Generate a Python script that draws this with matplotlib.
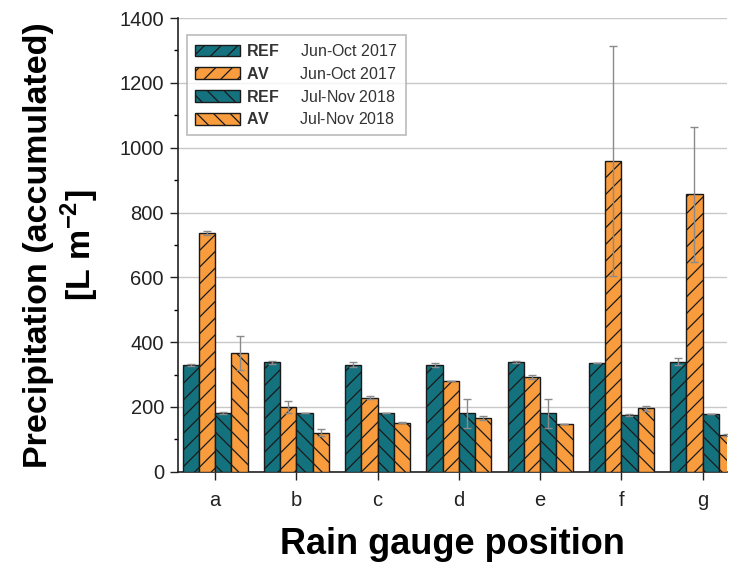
import numpy as np
import matplotlib
matplotlib.use("Agg")
import matplotlib.pyplot as plt

plt.rcParams['font.family'] = ['Liberation Sans', 'DejaVu Sans']
plt.rcParams['mathtext.fontset'] = 'custom'
plt.rcParams['mathtext.bf'] = 'Liberation Sans:bold'
plt.rcParams['mathtext.rm'] = 'Liberation Sans'
plt.rcParams['hatch.linewidth'] = 0.9

# data
positions = ['a', 'b', 'c', 'd', 'e', 'f', 'g']
ref_2017 = [329, 338, 330, 330, 338, 337, 340]
ref_2017_err = [4, 4, 8, 7, 3, 0, 12]
av_2017 = [737, 200, 229, 281, 292, 960, 856]
av_2017_err = [6, 19, 4, 0, 6, 355, 209]
ref_2018 = [181, 181, 181, 181, 181, 175, 178]
ref_2018_err = [2, 0, 0, 45, 45, 4, 0]
av_2018 = [366, 121, 152, 166, 148, 196, 114]
av_2018_err = [52, 10, 3, 6, 0, 8, 3]

series = [
    (ref_2017, ref_2017_err, '#14727e', '//', r'$\mathbf{REF}$     Jun-Oct 2017'),
    (av_2017, av_2017_err, '#f89c3e', '//', r'$\mathbf{AV}$       Jun-Oct 2017'),
    (ref_2018, ref_2018_err, '#14727e', '\\\\', r'$\mathbf{REF}$     Jul-Nov 2018'),
    (av_2018, av_2018_err, '#f89c3e', '\\\\', r'$\mathbf{AV}$       Jul-Nov 2018'),
]

fig = plt.figure(figsize=(7.32, 5.65), dpi=100)
ax = fig.add_axes([0.243, 0.165, 0.75, 0.803])

x = np.arange(len(positions))
w = 0.2
for i, (vals, errs, col, hatch, lab) in enumerate(series):
    ax.bar(x + (i - 1.5) * w, vals, w, color=col, edgecolor='#1a1a1a', linewidth=1.0,
           hatch=hatch, label=lab, zorder=3,
           yerr=errs, error_kw=dict(ecolor='#8a8a8a', elinewidth=1.0, capsize=3, capthick=1.0, zorder=4))

ax.set_ylim(0, 1400)
ax.set_xlim(-0.46, 6.3)
ax.set_yticks(np.arange(0, 1401, 200))
ax.set_yticks(np.arange(100, 1400, 200), minor=True)
ax.set_xticks(x)
ax.set_xticklabels(positions)
ax.tick_params(axis='y', which='major', length=6, width=1, labelsize=14.5, colors='#222222', pad=4)
ax.tick_params(axis='y', which='minor', length=3, width=1)
ax.tick_params(axis='x', length=6, width=1, labelsize=14.5, colors='#222222', pad=8)
ax.grid(axis='y', color='#c8c8c8', linewidth=1.0, zorder=0)

for s in ['top', 'right']:
    ax.spines[s].set_visible(False)
for s in ['left', 'bottom']:
    ax.spines[s].set_linewidth(1.2)
    ax.spines[s].set_color('#222222')

ax.set_ylabel('Precipitation (accumulated)\n[L m$^{\\mathbf{-2}}$]', fontsize=24.5,
              fontweight='bold', linespacing=1.15, labelpad=13)
ax.set_xlabel('Rain gauge position', fontsize=26, fontweight='bold', labelpad=12)

leg = ax.legend(loc='upper left', bbox_to_anchor=(0.002, 0.98), fontsize=11.5,
                handlelength=2.8, handleheight=0.75, handletextpad=0.4,
                labelspacing=0.42, frameon=True, fancybox=False, borderpad=0.5)
leg.get_frame().set_edgecolor('#aaaaaa')
leg.get_frame().set_linewidth(1.2)
for t in leg.get_texts():
    t.set_color('#333333')

fig.savefig('out.png', dpi=100)
